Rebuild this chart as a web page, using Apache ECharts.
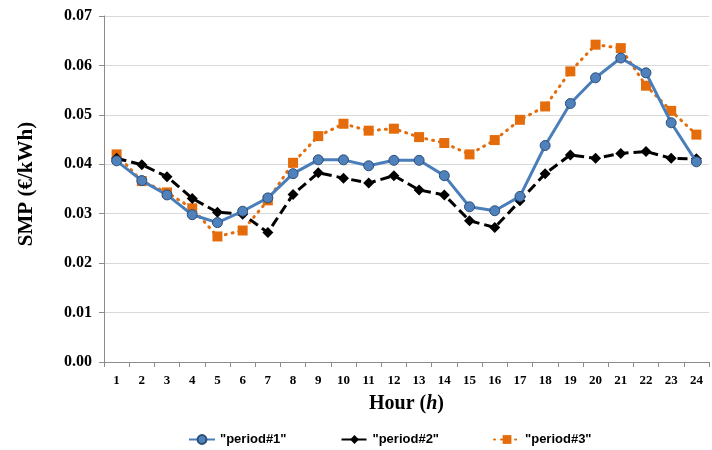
<!DOCTYPE html>
<html><head><meta charset="utf-8">
<script src="https://cdn.jsdelivr.net/npm/echarts@6/dist/echarts.min.js"></script>
<style>html,body{margin:0;padding:0;background:#fff}#c{width:712px;height:450px}</style>
</head><body><div id="c"></div>
<script>
const hours = ['1','2','3','4','5','6','7','8','9','10','11','12','13','14','15','16','17','18','19','20','21','22','23','24'];
const period1 = [0.0407,0.0367,0.0338,0.0298,0.0282,0.0305,0.0332,0.0381,0.0409,0.0409,0.0397,0.0408,0.0408,0.0377,0.0314,0.0306,0.0335,0.0438,0.0523,0.0575,0.0615,0.0585,0.0484,0.0405];
const period2 = [0.0412,0.0399,0.0375,0.0331,0.0303,0.0299,0.0262,0.0339,0.0383,0.0372,0.0362,0.0377,0.0348,0.0338,0.0286,0.0272,0.0326,0.0381,0.0419,0.0412,0.0422,0.0426,0.0412,0.0411];
const period3 = [0.0420,0.0366,0.0343,0.0311,0.0254,0.0266,0.0327,0.0403,0.0457,0.0482,0.0468,0.0472,0.0455,0.0443,0.0420,0.0449,0.0490,0.0517,0.0588,0.0642,0.0635,0.0559,0.0508,0.0460];
const seriesNames = ['"period#1"','"period#2"','"period#3"'];

const chart = echarts.init(document.getElementById('c'));
const serif = '"Liberation Serif", "Times New Roman", serif';
chart.setOption({
  animation: false,
  grid: {left: 104, right: 3, top: 16, bottom: 88, containLabel: false},
  legend: {
    top: 428, left: 183, itemGap: 54, itemWidth: 26, itemHeight: 11,
    textStyle: {fontFamily: '"Liberation Sans", Arial, sans-serif', fontSize: 13, fontWeight: 'bold', color: '#000'},
    data: seriesNames
  },
  xAxis: {
    type: 'category', data: hours, boundaryGap: true,
    axisLine: {lineStyle: {color: '#8c8c8c', width: 1}},
    axisTick: {show: true, alignWithLabel: false, length: 5, lineStyle: {color: '#8c8c8c'}},
    axisLabel: {fontFamily: serif, fontWeight: 'bold', fontSize: 13, color: '#000', margin: 12, interval: 0},
    name: '{a|Hour (}{b|h}{a|)}', nameLocation: 'middle', nameGap: 32,
    nameTextStyle: {rich: {
      a: {fontFamily: serif, fontWeight: 'bold', fontSize: 20, color: '#000'},
      b: {fontFamily: serif, fontWeight: 'bold', fontStyle: 'italic', fontSize: 20, color: '#000'}
    }}
  },
  yAxis: {
    type: 'value', min: 0, max: 0.07, interval: 0.01,
    axisLine: {show: true, lineStyle: {color: '#8c8c8c'}},
    axisTick: {show: true, length: 5, lineStyle: {color: '#8c8c8c'}},
    splitLine: {lineStyle: {color: '#d9d9d9'}},
    axisLabel: {fontFamily: serif, fontWeight: 'bold', fontSize: 16, color: '#000', margin: 12,
      formatter: v => v.toFixed(2)},
    name: 'SMP (€/kWh)', nameLocation: 'middle', nameGap: 67, nameRotate: 90,
    nameTextStyle: {fontFamily: serif, fontWeight: 'bold', fontSize: 21, color: '#000', padding: [0, 0, 0, 10]}
  },
  series: [
    {name: seriesNames[0], type: 'line', data: period1, symbol: 'circle', symbolSize: 10,
     lineStyle: {color: '#4a7ebb', width: 3}, itemStyle: {color: '#4f81bd', borderColor: '#2c4d75', borderWidth: 1}, z: 3},
    {name: seriesNames[1], type: 'line', data: period2, symbol: 'diamond', symbolSize: 11,
     lineStyle: {color: '#000', width: 3, type: [10, 5]}, itemStyle: {color: '#000'}, z: 2},
    {name: seriesNames[2], type: 'line', data: period3, symbol: 'rect', symbolSize: 10,
     lineStyle: {color: '#e46c0a', width: 3, type: [1, 6], cap: 'round'}, itemStyle: {color: '#e46c0a'}, z: 1}
  ]
});
</script></body></html>
